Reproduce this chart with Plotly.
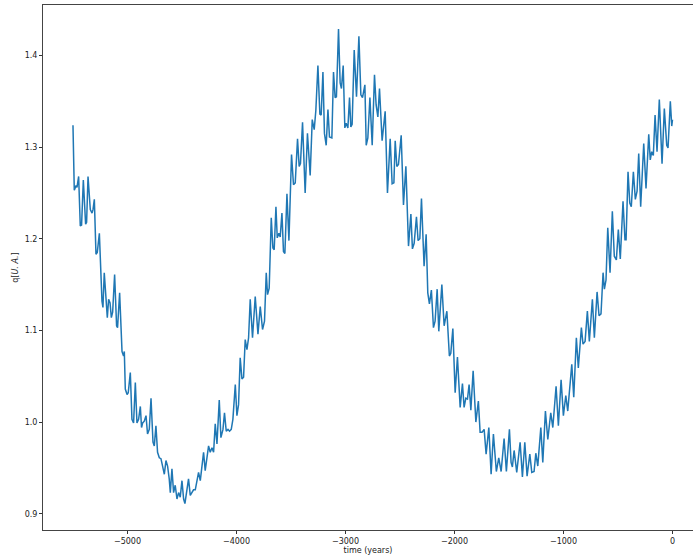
import plotly.graph_objects as go

time_years = [
    -5500, -5488, -5472, -5463, -5448, -5433, -5421, -5405, -5384, -5375, -5362, -5341, -5325, -5316, -5304,
    -5289, -5277, -5258, -5234, -5225, -5213, -5197, -5185, -5173, -5160, -5148, -5136, -5118, -5100, -5091,
    -5072, -5050, -5036, -5029, -5020, -5004, -4993, -4974, -4959, -4944, -4928, -4913, -4898, -4882, -4871,
    -4861, -4846, -4830, -4816, -4800, -4784, -4766, -4754, -4739, -4724, -4708, -4693, -4678, -4662, -4647,
    -4632, -4617, -4607, -4592, -4577, -4562, -4546, -4531, -4516, -4500, -4485, -4473, -4454, -4440, -4424,
    -4408, -4394, -4378, -4363, -4348, -4332, -4317, -4302, -4287, -4271, -4256, -4241, -4225, -4210, -4195,
    -4179, -4158, -4143, -4124, -4110, -4094, -4078, -4064, -4048, -4033, -4011, -3996, -3981, -3966, -3950,
    -3935, -3920, -3904, -3889, -3874, -3853, -3828, -3803, -3782, -3761, -3743, -3727, -3715, -3700, -3681,
    -3666, -3654, -3638, -3626, -3611, -3599, -3583, -3569, -3556, -3537, -3519, -3495, -3477, -3461, -3440,
    -3425, -3413, -3394, -3370, -3349, -3324, -3305, -3287, -3272, -3253, -3235, -3223, -3207, -3193, -3177,
    -3161, -3147, -3125, -3110, -3095, -3083, -3064, -3049, -3037, -3021, -3006, -2994, -2978, -2963, -2951,
    -2939, -2920, -2899, -2877, -2859, -2844, -2822, -2810, -2795, -2776, -2755, -2734, -2719, -2703, -2688,
    -2664, -2636, -2615, -2590, -2572, -2556, -2544, -2529, -2514, -2489, -2468, -2446, -2422, -2400, -2386,
    -2370, -2349, -2334, -2318, -2303, -2279, -2260, -2245, -2230, -2212, -2193, -2178, -2159, -2144, -2116,
    -2095, -2070, -2047, -2034, -2015, -1994, -1973, -1948, -1927, -1912, -1896, -1881, -1866, -1850, -1829,
    -1804, -1781, -1765, -1747, -1728, -1710, -1685, -1664, -1643, -1616, -1594, -1572, -1545, -1524, -1496,
    -1481, -1469, -1453, -1429, -1398, -1377, -1355, -1334, -1309, -1291, -1270, -1254, -1236, -1208, -1190,
    -1166, -1144, -1117, -1098, -1068, -1047, -1022, -1001, -979, -961, -924, -906, -882, -864, -836,
    -821, -802, -781, -763, -735, -717, -692, -674, -656, -637, -625, -610, -594, -573, -552,
    -534, -515, -497, -479, -454, -436, -426, -408, -392, -378, -359, -341, -325, -310, -292,
    -264, -243, -218, -204, -191, -176, -160, -142, -121, -96, -75, -53, -41, -20, -7,
    0,
]

q_values = [
    1.324, 1.253, 1.258, 1.256, 1.268, 1.214, 1.215, 1.264, 1.216, 1.218, 1.268, 1.232, 1.228, 1.232, 1.243,
    1.183, 1.185, 1.206, 1.132, 1.125, 1.163, 1.128, 1.114, 1.134, 1.130, 1.114, 1.120, 1.161, 1.105, 1.103,
    1.141, 1.077, 1.072, 1.077, 1.036, 1.030, 1.032, 1.054, 1.003, 0.999, 1.043, 0.999, 1.003, 1.017, 0.994,
    0.999, 1.001, 1.007, 0.987, 0.992, 1.026, 0.978, 0.974, 0.996, 0.967, 0.961, 0.960, 0.952, 0.943, 0.958,
    0.952, 0.938, 0.923, 0.949, 0.923, 0.931, 0.916, 0.923, 0.918, 0.936, 0.916, 0.911, 0.927, 0.938, 0.920,
    0.923, 0.926, 0.926, 0.934, 0.945, 0.936, 0.952, 0.967, 0.947, 0.960, 0.974, 0.967, 0.972, 0.967, 0.998,
    0.976, 1.024, 0.983, 0.992, 1.010, 0.990, 0.992, 0.990, 0.992, 1.003, 1.041, 1.007, 1.019, 1.070, 1.047,
    1.049, 1.090, 1.079, 1.092, 1.134, 1.092, 1.137, 1.096, 1.126, 1.101, 1.110, 1.163, 1.139, 1.146, 1.223,
    1.190, 1.188, 1.235, 1.201, 1.206, 1.202, 1.228, 1.186, 1.184, 1.249, 1.198, 1.292, 1.259, 1.261, 1.309,
    1.279, 1.282, 1.327, 1.250, 1.315, 1.269, 1.330, 1.319, 1.340, 1.389, 1.336, 1.335, 1.382, 1.315, 1.302,
    1.341, 1.311, 1.310, 1.382, 1.354, 1.355, 1.429, 1.370, 1.364, 1.389, 1.321, 1.326, 1.321, 1.354, 1.322,
    1.325, 1.406, 1.355, 1.421, 1.357, 1.354, 1.368, 1.302, 1.310, 1.354, 1.302, 1.379, 1.346, 1.333, 1.364,
    1.307, 1.339, 1.250, 1.309, 1.260, 1.261, 1.307, 1.279, 1.281, 1.313, 1.237, 1.279, 1.192, 1.227, 1.189,
    1.195, 1.224, 1.198, 1.200, 1.244, 1.170, 1.205, 1.141, 1.129, 1.144, 1.103, 1.110, 1.145, 1.099, 1.150,
    1.105, 1.121, 1.072, 1.075, 1.102, 1.032, 1.071, 1.016, 1.042, 1.016, 1.026, 1.025, 1.041, 1.013, 1.056,
    1.000, 1.023, 0.989, 0.989, 0.992, 0.965, 0.994, 0.943, 0.987, 0.946, 0.961, 0.946, 0.982, 0.946, 0.992,
    0.956, 0.951, 0.969, 0.945, 0.978, 0.940, 0.978, 0.941, 0.965, 0.945, 0.946, 0.966, 0.952, 0.994, 0.956,
    1.012, 0.981, 1.010, 0.994, 1.039, 0.996, 1.046, 1.007, 1.029, 1.012, 1.063, 1.027, 1.092, 1.059, 1.103,
    1.085, 1.088, 1.121, 1.088, 1.134, 1.092, 1.142, 1.116, 1.118, 1.163, 1.145, 1.155, 1.212, 1.163, 1.230,
    1.181, 1.177, 1.210, 1.178, 1.241, 1.199, 1.199, 1.273, 1.239, 1.235, 1.273, 1.243, 1.252, 1.293, 1.235,
    1.304, 1.255, 1.314, 1.286, 1.295, 1.291, 1.335, 1.295, 1.352, 1.282, 1.342, 1.302, 1.299, 1.350, 1.323,
    1.330,
]

x_ticks = [-5000, -4000, -3000, -2000, -1000, 0]
y_ticks = [0.9, 1.0, 1.1, 1.2, 1.3, 1.4]

fig = go.Figure()
fig.add_trace(go.Scatter(
    x=time_years, y=q_values, mode="lines",
    line=dict(color="#1f77b4", width=1.5),
    showlegend=False,
))

font = dict(family="DejaVu Sans", size=8, color="#222222")
fig.update_layout(
    width=693, height=558,
    margin=dict(l=43, r=0, t=5, b=28),
    paper_bgcolor="white", plot_bgcolor="white",
    font=font,
    xaxis=dict(
        range=[-5775, 188], tickvals=x_ticks,
        ticks="outside", ticklen=3, tickwidth=1, tickcolor="#333333",
        showgrid=False, zeroline=False,
        showline=True, linecolor="#444444", linewidth=1, mirror=True,
        title=dict(text="time (years)", standoff=2, font=font),
        tickfont=font,
    ),
    yaxis=dict(
        range=[0.8822, 1.4551], tickvals=y_ticks, tickformat=".1f",
        ticks="outside", ticklen=3, tickwidth=1, tickcolor="#333333",
        showgrid=False, zeroline=False,
        showline=True, linecolor="#444444", linewidth=1,
        title=dict(text="q[<i>U. A.</i>]", standoff=4, font=font),
        tickfont=font,
    ),
)

fig.write_html("out.html")
